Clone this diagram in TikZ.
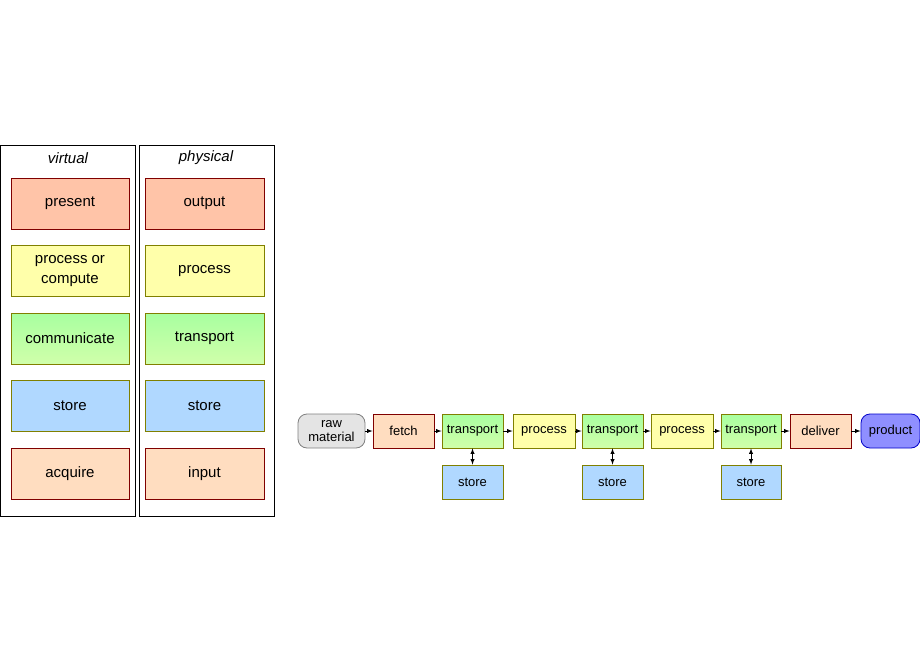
\documentclass[tikz,border=0pt]{standalone}
\usepackage{fontspec}
\setmainfont{Liberation Sans}
\begin{document}
\begin{tikzpicture}[x=1pt,y=-1pt,
  box/.style={draw, line width=0.8pt, inner sep=0pt, align=center, font=\fontsize{15}{20}\selectfont},
  fbox/.style={draw, line width=0.8pt, inner sep=0pt, align=center, font=\fontsize{13}{16}\selectfont, minimum height=34pt},
  cout/.style={fill={rgb,255:red,255;green,196;blue,168}, draw={rgb,255:red,128;green,0;blue,0}},
  cproc/.style={fill={rgb,255:red,255;green,255;blue,170}, draw={rgb,255:red,128;green,128;blue,0}},
  ctrans/.style={top color={rgb,255:red,168;green,255;blue,160}, bottom color={rgb,255:red,208;green,255;blue,170}, draw={rgb,255:red,128;green,128;blue,0}},
  cstor/.style={fill={rgb,255:red,176;green,216;blue,255}, draw={rgb,255:red,128;green,128;blue,0}},
  cinp/.style={fill={rgb,255:red,255;green,221;blue,192}, draw={rgb,255:red,128;green,0;blue,0}},
  arr/.style={-latex, line width=0.9pt},
  darr/.style={latex-latex, line width=0.9pt}]
\useasboundingbox (0,0) rectangle (920,660);
\node[draw, line width=0.8pt, minimum width=135pt, minimum height=371pt, inner sep=0pt] (pv) at (67.5,330.5) {};
\node[draw, line width=0.8pt, minimum width=135pt, minimum height=371pt, inner sep=0pt] (pp) at (206.5,330.5) {};
\node[font=\fontsize{15}{18}\selectfont\itshape] (tv) at (68,158) {virtual};
\node[font=\fontsize{15}{18}\selectfont\itshape] (tp) at (206,158) {physical};
\foreach \st/\a/\b/\yy/\n in {cout/present/output/203.5/1, cproc/process or\\compute/process/271/2, ctrans/communicate/transport/338.5/3, cstor/store/store/406/4, cinp/acquire/input/473.5/5}{
  \node[box,\st, minimum width=118pt, minimum height=51pt] (v\n) at (70,\yy) {\a};
  \node[box,\st, minimum width=119pt, minimum height=51pt] (p\n) at (204.5,\yy) {\b};
}
\node[fbox, rounded corners=9pt, fill={rgb,255:red,228;green,228;blue,228}, draw={rgb,255:red,128;green,128;blue,128}, minimum width=67pt] (raw) at (331.5,431) {raw\\[-2pt]material};
\node[fbox,cinp, minimum width=61pt] (fetch) at (403.5,431) {fetch};
\node[fbox,ctrans, minimum width=61pt] (t1) at (472.5,431) {transport};
\node[fbox,cproc, minimum width=62pt] (pr1) at (544,431) {process};
\node[fbox,ctrans, minimum width=61pt] (t2) at (612.5,431) {transport};
\node[fbox,cproc, minimum width=62pt] (pr2) at (682,431) {process};
\node[fbox,ctrans, minimum width=60pt] (t3) at (751,431) {transport};
\node[fbox,cinp, minimum width=61pt] (del) at (820.5,431) {deliver};
\node[fbox, rounded corners=9pt, fill={rgb,255:red,143;green,143;blue,255}, draw={rgb,255:red,0;green,0;blue,200}, minimum width=59pt] (prod) at (890.5,431) {product};
\node[fbox,cstor, minimum width=61pt] (s1) at (472.5,482) {store};
\node[fbox,cstor, minimum width=61pt] (s2) at (612.5,482) {store};
\node[fbox,cstor, minimum width=60pt] (s3) at (751,482) {store};
\draw[arr] (raw) -- (fetch);
\draw[arr] (fetch) -- (t1);
\draw[arr] (t1) -- (pr1);
\draw[arr] (pr1) -- (t2);
\draw[arr] (t2) -- (pr2);
\draw[arr] (pr2) -- (t3);
\draw[arr] (t3) -- (del);
\draw[arr] (del) -- (prod);
\draw[darr] (t1) -- (s1);
\draw[darr] (t2) -- (s2);
\draw[darr] (t3) -- (s3);
\end{tikzpicture}
\end{document}
